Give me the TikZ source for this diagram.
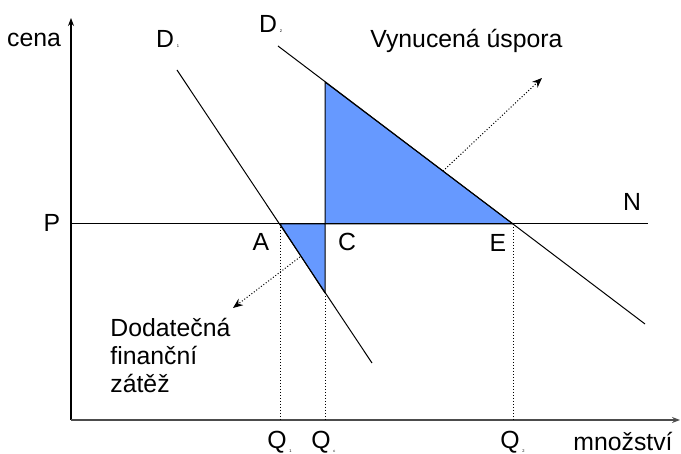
\documentclass[tikz,border=0pt]{standalone}
\usepackage{fontspec}
\setmainfont{Liberation Sans}
\usetikzlibrary{arrows.meta,positioning}
\definecolor{areablue}{HTML}{6699FF}
\tikzset{
axis/.style={-{Stealth[length=4pt,width=3pt]},line width=.6pt},
curve/.style={line width=.5pt},
guide/.style={densely dotted,line width=.5pt},
hint/.style={densely dotted,line width=.5pt,-{Stealth[length=5pt,width=4pt]}},
area/.style={fill=areablue,draw=black,line width=.5pt,line join=round},
lbl/.style={inner sep=0pt,font=\fontsize{12.4}{14}\selectfont},
sub/.style={inner sep=0pt,font=\fontsize{2}{2}\selectfont}
}
\begin{document}
\begin{tikzpicture}[x=.5pt,y=-.5pt]
\useasboundingbox(0,0)rectangle(681,454);
% axes and points
\coordinate(o)at(71,420);\coordinate(ytop)at(71,18);\coordinate(xend)at(680,420);
\coordinate(pl)at(71,224);\coordinate(pr)at(648,224);
\coordinate(d1s)at(177,70);\coordinate(d1e)at(372,363);
\coordinate(d2s)at(278,46);\coordinate(d2e)at(645,324);
\coordinate(a)at(280,224);\coordinate(c)at(325,224);\coordinate(e)at(513,224);
\coordinate(top)at(325,82);\coordinate(bot)at(325,293);
\coordinate(q1)at(280,420);\coordinate(qc)at(325,420);\coordinate(q2)at(513,420);
\coordinate(h1s)at(443,171);\coordinate(h1e)at(542,78);
\coordinate(h2s)at(300,257);\coordinate(h2e)at(233,308);
% shaded areas
\filldraw[area](c)--(top)--(e)--cycle;
\filldraw[area](a)--(c)--(bot)--cycle;
% lines
\draw[axis](o)--(ytop);
\draw[axis,gray!60!black,line width=.9pt](o)--(xend);
\draw[curve](pl)--(pr);
\draw[curve](d1s)--(d1e);
\draw[curve](d2s)--(d2e);
\draw[guide](a)--(q1);\draw[guide](bot)--(qc);\draw[guide](e)--(q2);
\draw[hint](h1s)--(h1e);
\draw[hint](h2s)--(h2e);
% labels
\node[lbl](cena)at(34,40){cena};
\node[lbl](lp)at(52,223){P};
\node[lbl](la)at(261,242){A};
\node[lbl](lc)at(347,242){C};
\node[lbl](le)at(498,243){E};
\node[lbl](ln)at(632,202){N};
\node[lbl](ld1)at(165,39){D};\node[sub,right=1pt of ld1.south east,anchor=south west](s1){1};
\node[lbl](ld2)at(268,24){D};\node[sub,right=1pt of ld2.south east,anchor=south west](s2){2};
\node[lbl](lq1)at(277,442){Q};\node[sub,right=1pt of lq1.south east,anchor=south west](sq1){1};
\node[lbl](lqc)at(321,442){Q};\node[sub,right=1pt of lqc.south east,anchor=south west](sqc){c};
\node[lbl](lq2)at(510,442){Q};\node[sub,right=1pt of lq2.south east,anchor=south west](sq2){2};
\node[lbl,anchor=base west](vu)at(370,48){Vynucená úspora};
\node[lbl,anchor=base west,align=left](dz)at(110,393){Dodatečná\\finanční\\zátěž};
\node[lbl,anchor=base west](mn)at(573,451){množství};
\end{tikzpicture}
\end{document}
